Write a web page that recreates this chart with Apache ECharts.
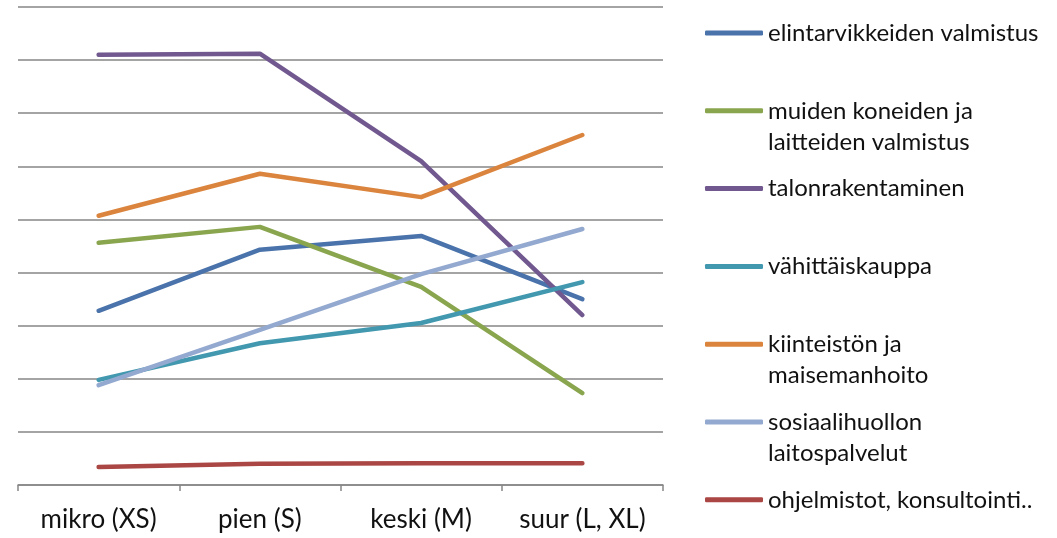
<!DOCTYPE html>
<html>
<head>
<meta charset="utf-8">
<script src="https://cdn.jsdelivr.net/npm/echarts@6/dist/echarts.min.js"></script>
<style>
  html, body { margin: 0; padding: 0; background: #fff; }
  #echarts { width: 1057px; height: 538px; }
</style>
</head>
<body>
<div id="echarts"></div>
<script>
// luokat
var categories = ["mikro (XS)", "pien (S)", "keski (M)", "suur (L, XL)"];

// sarjat
var elintarvikkeet = [3.28, 4.43, 4.69, 3.50];
var koneet = [4.56, 4.86, 3.73, 1.73];
var talonrakentaminen = [8.10, 8.12, 6.10, 3.20];
var vahittaiskauppa = [1.98, 2.67, 3.05, 3.82];
var kiinteisto = [5.07, 5.86, 5.42, 6.59];
var sosiaalihuolto = [1.88, 2.92, 3.97, 4.82];
var ohjelmistot = [0.34, 0.40, 0.41, 0.41];

var names = [
  "elintarvikkeiden valmistus",
  "muiden koneiden ja laitteiden valmistus",
  "talonrakentaminen",
  "vähittäiskauppa",
  "kiinteistön ja maisemanhoito",
  "sosiaalihuollon laitospalvelut",
  "ohjelmistot, konsultointi.."
];
var values = [elintarvikkeet, koneet, talonrakentaminen, vahittaiskauppa, kiinteisto, sosiaalihuolto, ohjelmistot];

// legendan rivitys
var legendLines = {
  "muiden koneiden ja laitteiden valmistus": ["muiden koneiden ja", "laitteiden valmistus"],
  "kiinteistön ja maisemanhoito": ["kiinteistön ja", "maisemanhoito"],
  "sosiaalihuollon laitospalvelut": ["sosiaalihuollon", "laitospalvelut"]
};

var colors = ["#4A73AB", "#89A54E", "#71588F", "#4198AF", "#DB843D", "#93A9CF", "#AA4643"];
var FONT = "Lato";
var LINE_H = 31;

var chartDom = document.getElementById("echarts");
var myChart = echarts.init(chartDom);

var legends = names.map(function (name, i) {
  var center = 33 + i * 77.8;
  var two = !!legendLines[name];
  return {
    orient: "vertical",
    left: 705,
    top: two ? center - 1.5 * LINE_H : center - LINE_H / 2,
    padding: 0,
    itemWidth: 58,
    itemHeight: 5,
    itemGap: 0,
    icon: "roundRect",
    data: [name],
    selectedMode: false,
    formatter: function (n) {
      return legendLines[n] ? " \n" + legendLines[n].join("\n") : n;
    },
    textStyle: {
      fontFamily: FONT,
      fontSize: 24,
      color: "#111",
      lineHeight: LINE_H
    }
  };
});

var option = {
  color: colors,
  animation: false,
  legend: legends,
  grid: { left: 18, right: 394, top: 7, bottom: 53, containLabel: false },
  xAxis: {
    type: "category",
    data: categories,
    boundaryGap: true,
    axisLine: { lineStyle: { color: "#868686", width: 1.5 } },
    axisTick: { show: true, interval: 0, length: 6, lineStyle: { color: "#868686", width: 1.5 } },
    axisLabel: { interval: 0, fontFamily: FONT, fontSize: 26, color: "#111", margin: 22 }
  },
  yAxis: {
    type: "value",
    min: 0,
    max: 9,
    interval: 1,
    axisLine: { show: false },
    axisTick: { show: false },
    axisLabel: { show: false },
    splitLine: { lineStyle: { color: "#868686", width: 1.5 } }
  },
  series: names.map(function (name, i) {
    return {
      name: name,
      type: "line",
      data: values[i],
      symbol: "none",
      lineStyle: { width: 4.5, cap: "round", join: "round" }
    };
  })
};

option && myChart.setOption(option);
</script>
</body>
</html>
